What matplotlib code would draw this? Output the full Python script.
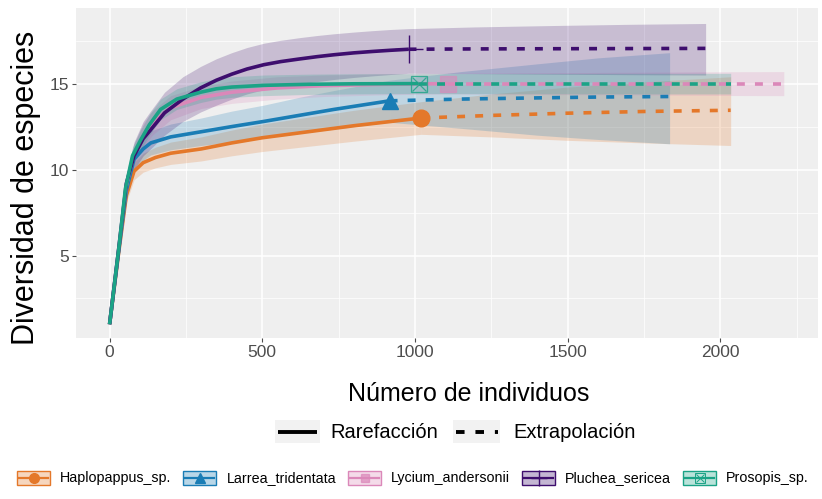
import matplotlib
matplotlib.use("Agg")
import matplotlib.pyplot as plt
from matplotlib.patches import Rectangle

plt.rcParams['font.family'] = ['Liberation Sans', 'DejaVu Sans']

especies = ["Haplopappus_sp.", "Larrea_tridentata", "Lycium_andersonii", "Pluchea_sericea", "Prosopis_sp."]
colores = ["#E4782A", "#1A7DB5", "#DB88B9", "#3E0E6E", "#1BA386"]

# rarefaccion (x, y, limite inferior, limite superior)
hap_x = [0, 30, 55, 80, 110, 150, 200, 300, 400, 500, 650, 800, 1020]
hap_y = [1, 5.2, 8.5, 9.9, 10.4, 10.7, 10.95, 11.2, 11.55, 11.85, 12.2, 12.55, 13.0]
hap_lo = [1, 5.0, 8.1, 9.4, 9.85, 10.1, 10.3, 10.5, 10.8, 11.05, 11.35, 11.65, 12.05]
hap_hi = [1, 5.4, 8.9, 10.4, 10.95, 11.3, 11.6, 11.9, 12.3, 12.65, 13.05, 13.45, 13.95]

lar_x = [0, 30, 55, 80, 110, 135, 200, 300, 400, 505, 620, 735, 917]
lar_y = [1, 5.3, 8.8, 10.6, 11.2, 11.55, 11.9, 12.2, 12.5, 12.8, 13.15, 13.5, 14.0]
lar_lo = [1, 5.1, 8.4, 10.0, 10.55, 10.85, 11.15, 11.4, 11.6, 11.85, 12.1, 12.35, 12.75]
lar_hi = [1, 5.5, 9.2, 11.2, 11.85, 12.25, 12.65, 13.0, 13.4, 13.75, 14.2, 14.6, 15.2]

lyc_x = [0, 30, 55, 80, 110, 140, 200, 300, 400, 550, 700, 900, 1107]
lyc_y = [1, 5.4, 9.1, 10.9, 12.0, 12.7, 13.6, 14.2, 14.5, 14.75, 14.88, 14.96, 15.0]
lyc_lo = [1, 5.2, 8.7, 10.3, 11.3, 12.0, 12.9, 13.55, 13.85, 14.1, 14.25, 14.35, 14.4]
lyc_hi = [1, 5.6, 9.5, 11.5, 12.7, 13.4, 14.3, 14.85, 15.15, 15.4, 15.5, 15.58, 15.6]

plu_x = [0, 30, 55, 80, 110, 134, 180, 240, 298, 350, 400, 450, 505, 560, 620, 680, 735, 800, 860, 920, 979]
plu_y = [1, 5.4, 9.2, 10.8, 11.8, 12.3, 13.3, 14.1, 14.75, 15.2, 15.55, 15.85, 16.1, 16.28, 16.43, 16.57, 16.68, 16.79, 16.87, 16.94, 17.0]
plu_lo = [1, 5.2, 8.6, 10.0, 10.8, 11.2, 12.0, 12.8, 13.35, 13.75, 14.1, 14.4, 14.65, 14.82, 14.98, 15.12, 15.24, 15.36, 15.45, 15.53, 15.6]
plu_hi = [1, 5.6, 9.8, 11.6, 12.8, 13.4, 14.5, 15.4, 16.0, 16.45, 16.8, 17.1, 17.35, 17.52, 17.67, 17.8, 17.9, 18.0, 18.08, 18.15, 18.2]

pro_x = [0, 30, 52, 75, 101, 130, 167, 220, 298, 350, 400, 505, 650, 800, 1012]
pro_y = [1, 5.4, 8.9, 10.8, 11.7, 12.6, 13.5, 14.1, 14.5, 14.7, 14.8, 14.9, 14.96, 14.99, 15.0]
pro_lo = [1, 5.2, 8.5, 10.3, 11.1, 12.0, 12.9, 13.5, 13.9, 14.1, 14.2, 14.3, 14.37, 14.4, 14.42]
pro_hi = [1, 5.6, 9.3, 11.3, 12.3, 13.2, 14.1, 14.7, 15.1, 15.3, 15.4, 15.5, 15.55, 15.57, 15.58]

# extrapolacion
hap_ex = [1020, 1250, 1500, 1750, 2034]
hap_ey = [13.0, 13.15, 13.28, 13.38, 13.45]
hap_elo = [12.05, 11.9, 11.7, 11.55, 11.4]
hap_ehi = [13.95, 14.4, 14.8, 15.1, 15.4]

lar_ex = [917, 1150, 1400, 1600, 1834]
lar_ey = [14.0, 14.1, 14.17, 14.22, 14.25]
lar_elo = [12.75, 12.4, 12.0, 11.75, 11.5]
lar_ehi = [15.2, 15.7, 16.15, 16.5, 16.8]

lyc_ex = [1107, 1400, 1700, 2000, 2208]
lyc_ey = [15.0, 15.0, 15.0, 15.0, 15.0]
lyc_elo = [14.4, 14.37, 14.34, 14.31, 14.3]
lyc_ehi = [15.6, 15.63, 15.66, 15.69, 15.7]

plu_ex = [979, 1200, 1450, 1700, 1952]
plu_ey = [17.0, 17.02, 17.03, 17.04, 17.05]
plu_elo = [15.6, 15.58, 15.55, 15.52, 15.5]
plu_ehi = [18.2, 18.3, 18.38, 18.45, 18.5]

pro_ex = [1012, 1300, 1600, 1850, 2034]
pro_ey = [15.0, 15.0, 15.0, 15.0, 15.0]
pro_elo = [14.42, 14.41, 14.4, 14.4, 14.4]
pro_ehi = [15.58, 15.59, 15.6, 15.6, 15.6]

rare = [(hap_x, hap_y, hap_lo, hap_hi), (lar_x, lar_y, lar_lo, lar_hi), (lyc_x, lyc_y, lyc_lo, lyc_hi),
        (plu_x, plu_y, plu_lo, plu_hi), (pro_x, pro_y, pro_lo, pro_hi)]
extra = [(hap_ex, hap_ey, hap_elo, hap_ehi), (lar_ex, lar_ey, lar_elo, lar_ehi), (lyc_ex, lyc_ey, lyc_elo, lyc_ehi),
         (plu_ex, plu_ey, plu_elo, plu_ehi), (pro_ex, pro_ey, pro_elo, pro_ehi)]
marcadores = ["o", "^", "s", "+", "boxx"]

W, H = 822, 499
fig = plt.figure(figsize=(W / 100, H / 100), dpi=100)
ax = fig.add_axes([76 / W, 1 - 338 / H, (818 - 76) / W, (338 - 8) / H])
ax.set_facecolor("#EFEFEF")
for s in ax.spines.values():
    s.set_visible(False)

ax.set_xlim(-110, 2320)
ax.set_ylim(0.2, 19.4)
ax.set_xticks([0, 500, 1000, 1500, 2000])
ax.set_xticks([250, 750, 1250, 1750, 2250], minor=True)
ax.set_yticks([5, 10, 15])
ax.set_yticks([2.5, 7.5, 12.5, 17.5], minor=True)
ax.grid(which="major", color="white", lw=1.1)
ax.grid(which="minor", color="white", lw=0.5)
ax.set_axisbelow(True)
ax.tick_params(which="major", length=3, width=0.8, color="#4D4D4D", labelcolor="#4D4D4D", labelsize=12.5, pad=2)
ax.tick_params(which="minor", length=0)

# bandas
for (x, y, lo, hi), (ex, ey, elo, ehi), c in zip(rare, extra, colores):
    ax.fill_between(x, lo, hi, color=c, alpha=0.22, lw=0)
    ax.fill_between(ex, elo, ehi, color=c, alpha=0.22, lw=0)

# curvas
for (x, y, lo, hi), (ex, ey, elo, ehi), c, m in zip(rare, extra, colores, marcadores):
    ax.plot(x, y, color=c, lw=2.6, solid_capstyle="butt", solid_joinstyle="round")
    ax.plot(ex, ey, color=c, lw=2.6, ls=(0, (2.2, 2.8)))
    if m == "boxx":
        ax.plot(x[-1], y[-1], marker="s", ms=11, mfc="none", mec=c, mew=0.9, alpha=0.8)
        ax.plot(x[-1], y[-1], marker="x", ms=10, mec=c, mew=0.9, alpha=0.8)
    elif m == "+":
        ax.plot(x[-1], y[-1], marker="+", ms=20, mec=c, mew=1.0)
    elif m == "s":
        ax.plot(x[-1], y[-1], marker="s", ms=11, mfc=c, mec=c, alpha=0.6)
    else:
        ax.plot(x[-1], y[-1], marker=m, ms=12, mfc=c, mec=c)

fig.text(26 / W, 1 - 188 / H, "Diversidad de especies", rotation=90, fontsize=22,
         ha="center", va="center")
fig.text(469 / W, 1 - 394 / H, "Número de individuos", fontsize=18, ha="center", va="center")

# leyendas dibujadas en coordenadas de pixel
lax = fig.add_axes([0, 0, 1, 1])
lax.set_xlim(0, W)
lax.set_ylim(H, 0)
lax.axis("off")

lax.add_patch(Rectangle((275, 420), 45, 23, color="#F2F2F2", lw=0))
lax.plot([278, 317], [432, 432], color="black", lw=2.8, solid_capstyle="butt")
lax.text(330, 432, "Rarefacción", fontsize=14.5, va="center", ha="left")
lax.add_patch(Rectangle((453, 420), 47, 23, color="#F2F2F2", lw=0))
lax.plot([456, 498], [432, 432], color="black", lw=2.8, ls=(0, (2.2, 2.8)))
lax.text(513, 432, "Extrapolación", fontsize=14.5, va="center", ha="left")

fig.canvas.draw()
renderer = fig.canvas.get_renderer()
inv = lax.transData.inverted()
xpos = 17
ycen = 478
for nombre, c, m in zip(especies, colores, marcadores):
    lax.add_patch(Rectangle((xpos, ycen - 7), 33, 14, facecolor=c, alpha=0.3, lw=0))
    lax.add_patch(Rectangle((xpos, ycen - 7), 33, 14, facecolor="none", edgecolor=c, lw=1.0))
    lax.plot([xpos + 2, xpos + 31], [ycen, ycen], color=c, lw=1.6)
    cx = xpos + 16.5
    if m == "boxx":
        lax.plot(cx, ycen, marker="s", ms=7, mfc="none", mec=c, mew=0.7)
        lax.plot(cx, ycen, marker="x", ms=6, mec=c, mew=0.7)
    elif m == "+":
        lax.plot(cx, ycen, marker="+", ms=11, mec=c, mew=1.0)
    elif m == "s":
        lax.plot(cx, ycen, marker="s", ms=6, mfc=c, mec=c, alpha=0.7)
    else:
        lax.plot(cx, ycen, marker=m, ms=7, mfc=c, mec=c)
    t = lax.text(xpos + 43, ycen, nombre, fontsize=10.3, va="center", ha="left")
    bb = t.get_window_extent(renderer)
    x1 = inv.transform((bb.x1, bb.y1))[0]
    xpos = x1 + 12

fig.savefig("out.png", dpi=100)
